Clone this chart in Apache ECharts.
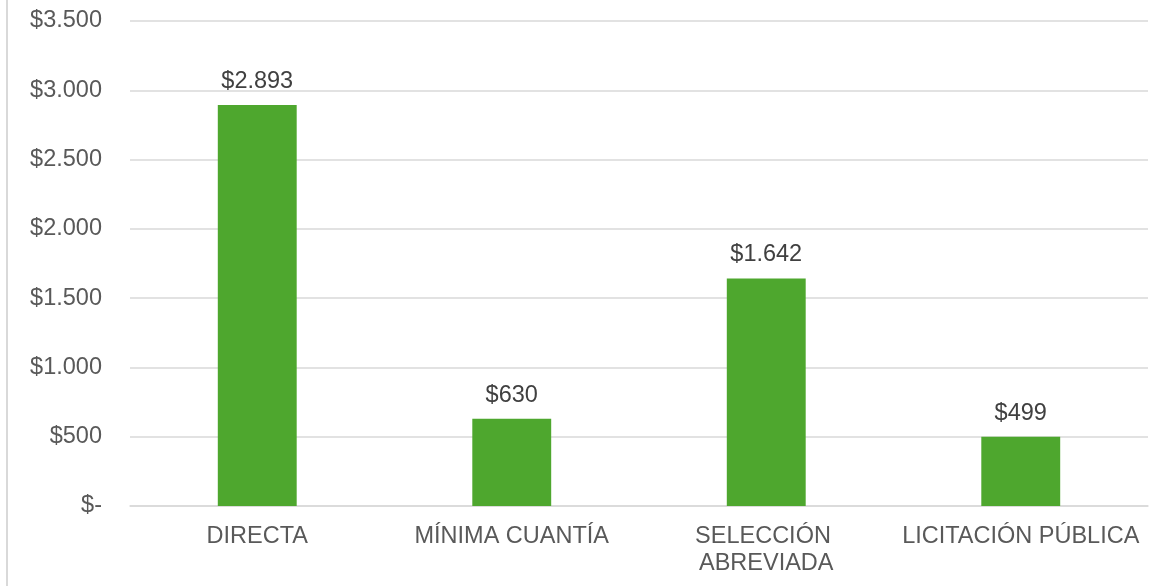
<!DOCTYPE html>
<html>
<head>
<meta charset="utf-8">
<script src="https://cdn.jsdelivr.net/npm/echarts@6/dist/echarts.min.js"></script>
<style>
  html, body { margin: 0; padding: 0; background: #fff; }
  #chart { width: 1164px; height: 586px; }
</style>
</head>
<body>
<div id="chart"></div>
<script>
// modalidades de contratación
var categorias = ["DIRECTA", "MÍNIMA CUANTÍA", "SELECCIÓN ABREVIADA", "LICITACIÓN PÚBLICA"];
var valores = [2893, 630, 1642, 499];

function pesos(v) {
	if (v === 0) return "$-";
	return "$" + String(v).replace(/\B(?=(\d{3})+(?!\d))/g, ".");
}

var myChart = echarts.init(document.getElementById("chart"));

var option = {
	animation: false,
	textStyle: { fontFamily: "Liberation Sans, Arial, sans-serif" },
	graphic: [{
		type: "line",
		shape: { x1: 7, y1: 0, x2: 7, y2: 586 },
		style: { stroke: "#d9d9d9", lineWidth: 2 }
	}],
	grid: {
		left: 130,
		right: 16,
		top: 21,
		bottom: 80
	},
	xAxis: {
		type: "category",
		data: categorias,
		axisLine: { lineStyle: { color: "#d9d9d9", width: 1.5 } },
		axisTick: { show: false },
		axisLabel: {
			color: "#595959",
			fontSize: 23.5,
			margin: 17,
			lineHeight: 27,
			width: 258,
			overflow: "break",
			interval: 0
		}
	},
	yAxis: {
		type: "value",
		min: 0,
		max: 3500,
		interval: 500,
		axisLine: { show: false },
		axisTick: { show: false },
		splitLine: { lineStyle: { color: "#d9d9d9", width: 1.5 } },
		axisLabel: {
			color: "#595959",
			fontSize: 23.5,
			margin: 28,
			formatter: pesos
		}
	},
	series: [{
		type: "bar",
		data: valores,
		barWidth: "31%",
		itemStyle: { color: "#4ea72e" },
		label: {
			show: true,
			position: "top",
			distance: 10,
			color: "#404040",
			fontSize: 23.5,
			lineHeight: 27,
			formatter: function (p) { return pesos(p.value); }
		}
	}]
};

myChart.setOption(option);
</script>
</body>
</html>
